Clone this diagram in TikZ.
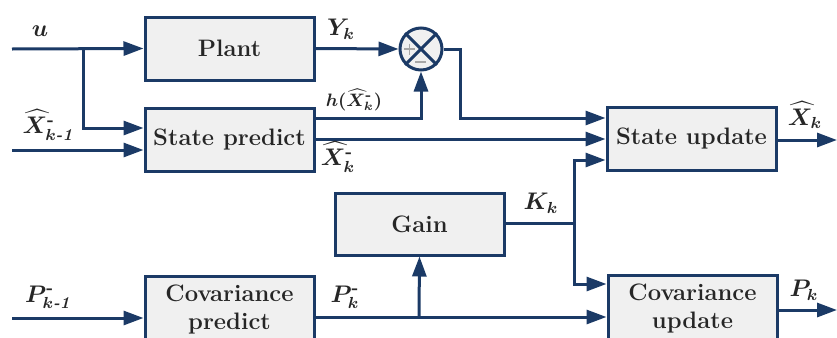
\documentclass[tikz,border=0pt]{standalone}
\usepackage{amsmath,bm}
\usetikzlibrary{arrows.meta,calc}
\definecolor{navy}{HTML}{1B3A66}
\definecolor{boxfill}{HTML}{F0F0F0}
\definecolor{txt}{HTML}{262626}
\begin{document}
\begin{tikzpicture}[x=0.5pt,y=-0.5pt,
  blk/.style={draw=navy,line width=1.5pt,fill=boxfill,minimum width=84.5pt,minimum height=31.5pt,inner sep=0pt,align=center,font=\fontsize{11.9}{14}\selectfont\bfseries,text=txt},
  arr/.style={draw=navy,line width=1.5pt,-{Triangle[length=10pt,width=7pt]}},
  ln/.style={draw=navy,line width=1.5pt},
  lbl/.style={font=\fontsize{11.9}{14}\selectfont,text=txt,inner sep=0pt},
  slbl/.style={font=\fontsize{9.2}{11}\selectfont,text=txt,inner sep=0pt}]
\useasboundingbox (0,0) rectangle (837,338);
\clip (0,0) rectangle (837,338);
% blocks
\node[blk] (plant) at (229.5,48.5) {Plant};
\node[blk] (sp) at (229.5,139.5) {State predict};
\node[blk] (su) at (691.5,138.5) {State update};
\node[blk,minimum height=31pt] (gain) at (419.5,224) {Gain};
\node[blk,minimum height=33pt] (cp) at (229.5,309) {Covariance\\predict};
\node[blk,minimum height=33pt] (cu) at (692.5,308) {Covariance\\update};
\node[circle,draw=navy,line width=1.5pt,fill=boxfill,minimum size=21pt,inner sep=0pt] (sum) at (421,49) {};
\draw[ln] (sum.north west) -- (sum.south east) (sum.north east) -- (sum.south west);
\draw[gray!70,line width=0.6pt] (404,49) -- (415,49) (409.5,43.5) -- (409.5,54.5) (415,62) -- (426,62);
% coordinates
\coordinate (uin) at (12,49);
\coordinate (ub) at (83,49);
\coordinate (ubd) at (83,128);
\coordinate (xin) at (12,150);
\coordinate (hy) at (0,118);
\coordinate (xy) at (0,139);
\coordinate (sr) at (460,49);
\coordinate (srd) at (460,118);
\coordinate (xout) at (837,140);
\coordinate (kj) at (574,223);
\coordinate (kt) at (574,160);
\coordinate (kb) at (574,284);
\coordinate (pin) at (12,318);
\coordinate (py) at (0,317);
\coordinate (pj) at (419,317);
\coordinate (pout) at (837,310);
% connectors
\draw[arr] (uin) -- (plant.west);
\draw[arr] (ub) -- (ubd) -- (sp.west |- ubd);
\draw[arr] (xin) -- (sp.west |- xin);
\draw[arr] (plant.east) -- (sum.west);
\draw[arr] (sp.east |- hy) -| (sum.south);
\draw[arr] (sum.east) -- (sr) -- (srd) -- (su.west |- srd);
\draw[arr] (sp.east |- xy) -- (su.west |- xy);
\draw[arr] (su.east |- xout) -- (xout);
\draw[ln] (gain.east |- kj) -- (kj);
\draw[arr] (kb) -- (kt) -- (su.west |- kt);
\draw[arr] (kt) -- (kb) -- (cu.west |- kb);
\draw[arr] (pin) -- (cp.west |- pin);
\draw[arr] (cp.east |- py) -- (cu.west |- py);
\draw[arr] (pj) -- (gain.south);
\draw[arr] (cu.east |- pout) -- (pout);
% labels
\node[lbl] (lu) at (40,31) {$\bm{u}$};
\node[lbl] (ly) at (341,29) {$\bm{Y}_{\bm{k}}$};
\node[lbl] (lx1) at (48,125) {$\bm{\widehat{X}}^{\textbf{-}}_{\bm{k}\textbf{\textit{-1}}}$};
\node[lbl] (lh) at (354,100) {\fontsize{9.2}{11}\selectfont$\bm{h(\widehat{X}}^{\textbf{-}}_{\bm{k}}\bm{)}$};
\node[lbl] (lxm) at (338,157) {$\bm{\widehat{X}}^{\textbf{-}}_{\bm{k}}$};
\node[lbl] (lxk) at (805,115) {$\bm{\widehat{X}}_{\bm{k}}$};
\node[lbl] (lk) at (541,203) {$\bm{K}_{\bm{k}}$};
\node[lbl] (lp1) at (48,297) {$\bm{P}^{\textbf{-}}_{\bm{k}\textbf{\textit{-1}}}$};
\node[lbl] (lpm) at (345,297) {$\bm{P}^{\textbf{-}}_{\bm{k}}$};
\node[lbl] (lpk) at (804,290) {$\bm{P}_{\bm{k}}$};
\end{tikzpicture}
\end{document}
